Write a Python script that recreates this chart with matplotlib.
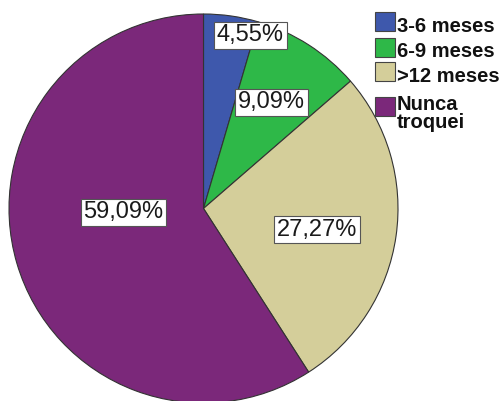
import matplotlib
matplotlib.use("Agg")
import matplotlib.pyplot as plt
from matplotlib.patches import Rectangle

categories = ["3-6 meses", "6-9 meses", ">12 meses", "Nunca\ntroquei"]
counts = [1, 2, 6, 13]
colors = ["#3E58AC", "#2EB848", "#D4CE9A", "#7B287A"]

W, H = 502, 401
fig = plt.figure(figsize=(W / 100, H / 100), dpi=100)
fig.patch.set_facecolor("white")

cx, cy, r = 203.5, 208.5, 194.5
ax = fig.add_axes([(cx - r) / W, (H - cy - r) / H, 2 * r / W, 2 * r / H])

wedges, texts, autotexts = ax.pie(
    counts, colors=colors, startangle=90, counterclock=False, radius=1,
    autopct=lambda p: f"{p:.2f}%".replace(".", ","),
    wedgeprops=dict(edgecolor="#333333", linewidth=0.8),
    textprops=dict(fontsize=17, family="Liberation Sans", color="#1a1a1a"),
    frame=False,
)
ax.set_xlim(-1, 1)
ax.set_ylim(-1, 1)
ax.set_aspect("equal")
ax.axis("off")

label_pos = [(0.24, 0.89), (0.35, 0.545), (0.586, -0.108), (-0.411, -0.02)]
for t, pos in zip(autotexts, label_pos):
    t.set_position(pos)
    t.set_ha("center")
    t.set_va("center")
    t.set_bbox(dict(boxstyle="square,pad=0.12", facecolor="white",
                    edgecolor="#555555", linewidth=0.8))

# legend (manual)
patch_tops = [12, 38, 62, 97]
baselines = [32, 57, 82, 128]
for cat, col, top, base in zip(categories, colors, patch_tops, baselines):
    fig.add_artist(Rectangle((375 / W, (H - top - 19) / H), 20 / W, 19 / H,
                             transform=fig.transFigure, facecolor=col,
                             edgecolor="#444444", linewidth=0.8))
    fig.text(397 / W, (H - base) / H, cat, ha="left", va="baseline",
             fontsize=14.5, fontweight="bold", family="Liberation Sans",
             color="#111111", linespacing=0.93)

fig.savefig("out.png", dpi=100, facecolor="white")
